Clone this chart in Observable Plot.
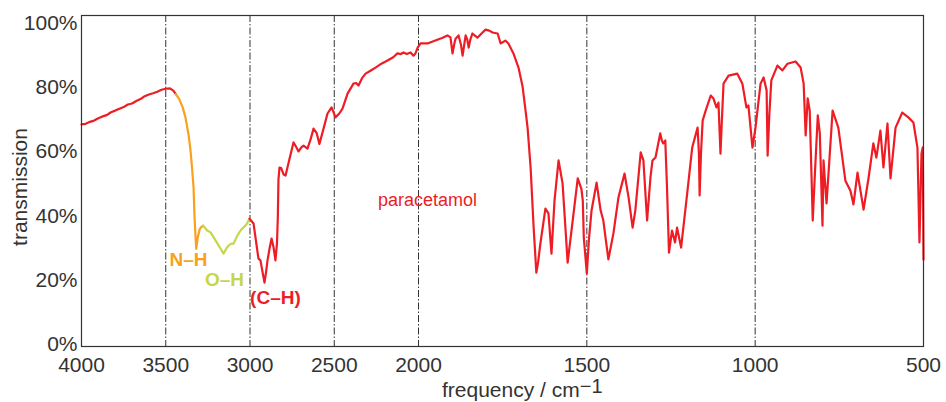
<!DOCTYPE html>
<html><head><meta charset="utf-8">
<script src="https://cdn.jsdelivr.net/npm/d3@7"></script>
<script src="https://cdn.jsdelivr.net/npm/@observablehq/plot@0.6"></script>
<style>body{margin:0;background:#fff} svg{display:block}</style>
</head><body><div id="chart"></div>
<script>
// Spectrum segments (frequency in cm^-1, transmission in %)
const baseFreq = [4000,3975,3950,3925,3900,3875,3850,3825,3800,3775,3750,3725,3700,3675,3650,3625,3600,3575,3550,3525,3500,3475,3455,3440];
const baseT    = [69.1,69.3,69.9,70.3,71.0,71.6,72.0,72.9,73.4,74.0,74.5,75.3,75.6,76.4,77.0,77.9,78.4,78.8,79.3,79.9,80.2,80.3,79.6,78.5];

const nhFreq = [3440,3420,3400,3383,3365,3353,3343,3335,3329,3322,3319,3310,3298,3288,3278];
const nhT    = [78.5,77.0,74.5,71.3,66.0,61.0,55.0,49.5,40.0,33.0,30.4,34.0,36.6,37.2,37.6];

const ohFreq = [3278,3254,3234,3210,3193,3175,3157,3140,3128,3110,3098,3075,3056,3040,3027,3015,3003];
const ohT    = [37.6,36.1,35.5,33.5,32.0,30.5,28.9,30.5,31.4,32.0,32.0,34.5,36.1,37.0,37.6,38.5,39.8];

const mainFreq = [3003,2979,2965,2950,2938,2925,2914,2905,2896,2884,2872,2860,2849,2840,2835,2831,2825,2815,2800,2789,2765,2742,2725,2712,2695,2682,2659,2640,2623,2605,2588,2560,2540,2516,2505,2493,2470,2451,2421,2386,2370,2356,2335,2314,2285,2255,2220,2184,2150,2125,2105,2089,2070,2047,2030,2018,2005,1994,1973,1950,1930,1914,1905,1899,1893,1890,1881,1874,1869,1864,1860,1855,1851,1846,1840,1825,1812,1801,1790,1780,1765,1756,1742,1733,1718,1703,1691,1682,1676,1667,1658,1650,1645,1638,1623,1614,1605,1596,1584,1572,1557,1542,1527,1516,1512,1509,1500,1494,1486,1471,1459,1451,1436,1421,1406,1388,1376,1364,1356,1340,1332,1321,1311,1305,1296,1282,1277,1273,1267,1262,1256,1247,1238,1232,1220,1202,1187,1171,1167,1165,1161,1156,1147,1132,1124,1115,1109,1103,1099,1094,1079,1053,1038,1026,1020,1008,999,984,975,966,963,958,952,934,919,904,880,865,856,850,844,838,829,822,814,808,800,797,788,770,753,732,717,708,696,678,663,649,640,628,619,607,598,583,563,545,530,518,512,506,502,500];
const mainT    = [39.8,38.3,33.0,27.4,26.8,23.0,19.9,23.0,26.8,30.5,33.6,30.8,26.8,32.0,40.0,52.0,55.7,55.5,53.5,53.2,58.5,63.5,62.0,60.7,62.0,62.5,61.6,64.5,67.8,66.5,63.0,68.5,72.5,74.4,73.0,71.3,72.5,74.0,78.7,81.8,82.0,81.2,83.5,84.9,85.8,86.8,88.0,89.0,90.0,91.2,91.0,91.5,91.0,91.5,90.5,91.2,93.0,94.3,94.3,95.2,96.0,96.8,96.2,91.2,94.5,95.8,96.8,94.0,90.5,94.0,96.8,95.5,93.0,95.5,97.4,96.1,97.5,98.6,98.3,97.7,97.4,94.3,95.2,94.3,91.2,86.8,81.0,73.4,68.1,55.7,37.0,23.0,26.0,32.0,42.9,41.4,28.9,45.4,57.9,50.7,26.1,39.2,52.3,49.0,45.4,33.9,22.7,33.0,42.3,51.0,42.3,39.2,27.1,35.2,46.4,53.8,46.4,37.0,42.3,60.4,57.9,39.2,52.6,57.9,58.8,66.3,64.0,63.2,64.1,50.0,29.2,36.1,32.4,37.0,30.8,47.6,61.9,68.1,60.0,47.0,60.0,70.3,73.4,78.1,77.2,74.4,75.9,60.0,70.0,81.8,84.3,84.9,81.8,74.4,75.0,61.9,68.1,81.8,83.7,79.7,59.4,72.0,82.8,87.4,85.9,88.0,88.7,86.8,81.8,65.7,77.2,73.4,39.2,55.0,71.9,66.3,37.6,57.9,44.5,73.4,68.1,51.6,48.5,44.2,54.1,42.6,52.6,63.2,58.8,67.2,55.7,69.4,52.3,68.1,72.8,71.3,69.7,61.9,32.4,60.0,62.0,27.0];

const gridFreq = [3500,3000,2500,2000,1500,1000];
const xTicks = [4000,3500,3000,2500,2000,1500,1000,500];
const yTicks = [0,20,40,60,80,100];

const labelText = ["paracetamol","N–H","O–H","(C–H)"];
const labelFreq = [1973,3365,3151,2849];
const labelT    = [45.4,26.8,20.8,15.2];

const RED = "#ee1d25", ORANGE = "#f7a11d", LIME = "#c5d64a";
const rows = (fs, ts) => fs.map((f, i) => ({f, t: ts[i]}));
const labels = labelText.map((s, i) => ({s, f: labelFreq[i], t: labelT[i]}));

const chart = Plot.plot({
  width: 946, height: 402,
  marginLeft: 81, marginRight: 23, marginTop: 15, marginBottom: 56,
  style: {fontFamily: "'Liberation Sans', Arial, sans-serif", fontSize: "21px", color: "#333", background: "#fff"},
  x: {type: "linear", domain: [4000, 2000, 500], range: [81, 418, 923]},
  y: {domain: [0, 103]},
  marks: [
    Plot.ruleX(gridFreq, {stroke: "#333", strokeWidth: 1, strokeDasharray: "7,2,1.5,2"}),
    Plot.line(rows(baseFreq, baseT), {x: "f", y: "t", stroke: RED, strokeWidth: 2.2}),
    Plot.line(rows(nhFreq, nhT), {x: "f", y: "t", stroke: ORANGE, strokeWidth: 2.2}),
    Plot.line(rows(ohFreq, ohT), {x: "f", y: "t", stroke: LIME, strokeWidth: 2.2}),
    Plot.line(rows(mainFreq, mainT), {x: "f", y: "t", stroke: RED, strokeWidth: 2.2}),
    Plot.frame({stroke: "#333", strokeWidth: 1.2}),
    Plot.axisX(xTicks, {tickSize: 0, tickPadding: 11, label: null, tickFormat: d3.format("d"), fontSize: 21}),
    Plot.axisY(yTicks, {tickSize: 0, tickPadding: 4, dy: -2, label: null, tickFormat: d => d + "%", fontSize: 21}),
    Plot.text(labels.slice(0, 1), {x: "f", y: "t", text: "s", fill: RED, fontSize: 18}),
    Plot.text(labels.slice(1, 2), {x: "f", y: "t", text: "s", fill: ORANGE, fontSize: 19, fontWeight: "bold"}),
    Plot.text(labels.slice(2, 3), {x: "f", y: "t", text: "s", fill: LIME, fontSize: 19, fontWeight: "bold"}),
    Plot.text(labels.slice(3, 4), {x: "f", y: "t", text: "s", fill: RED, fontSize: 19, fontWeight: "bold"})
  ]
});

const svg = d3.select(chart);
const xl = svg.append("text")
  .attr("x", 442).attr("y", 397)
  .attr("text-anchor", "start")
  .attr("font-size", 21).attr("fill", "#333")
  .text("frequency / cm");
xl.append("tspan").attr("dy", -4).attr("font-size", 20).text("−1");
svg.append("text")
  .attr("transform", "translate(27,187) rotate(-90)")
  .attr("text-anchor", "middle")
  .attr("font-size", 21).attr("fill", "#333")
  .text("transmission");

document.getElementById("chart").appendChild(chart);
</script></body></html>
